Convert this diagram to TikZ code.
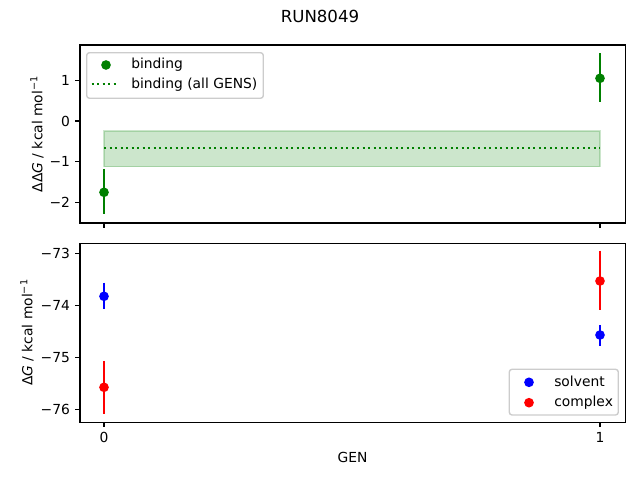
\documentclass[tikz,border=0pt]{standalone}
\usepackage{fontspec}
\setmainfont{DejaVu Sans}
\definecolor{mplGreen}{HTML}{008000}
\definecolor{mplBlue}{HTML}{0000FF}
\definecolor{mplRed}{HTML}{FF0000}
\definecolor{legendEdge}{HTML}{CCCCCC}
\tikzset{
  plot style/.style={
    x=0.01in, y=-0.01in,
    font=\fontsize{10}{12}\selectfont,
  },
  axis frame/.style={
    draw, line width=0.8pt,
  },
  tick mark/.style={
    line width=0.8pt,
  },
  tick label/.style={
    inner sep=0pt,
  },
  data point/.style={
    fill=#1, circle, inner sep=0pt, minimum size=7pt
  },
  error bar/.style={
    draw=#1, line width=1.5pt,
  },
  mean line/.style={
    draw=mplGreen, line width=1.5pt,
    dash pattern=on 1.5pt off 2.475pt,
  },
  mean band/.style={
    fill=mplGreen, draw=mplGreen, line width=1pt, opacity=0.2,
  },
  legend box/.style={
    draw=legendEdge, fill=white, fill opacity=0.8,
    rounded corners=2pt, line width=1pt,
  },
  legend text/.style={
    inner sep=0pt, anchor=base west,
  },
}
\begin{document}
\begin{tikzpicture}[plot style]
  \useasboundingbox (0,0) rectangle (640,480);
  \node[font=\fontsize{12}{14}\selectfont] (title) at (320,16) {RUN8049};

  % upper panel: binding
  \path[mean band] (104,131) rectangle (600,166.7);
  \coordinate (meanL) at (104,147.7);
  \coordinate (meanR) at (600,147.7);
  \draw[mean line] (meanL) -- (meanR);
  \coordinate (b0top) at (104,169);
  \coordinate (b0bot) at (104,214.3);
  \coordinate (b1top) at (600,53.3);
  \coordinate (b1bot) at (600,101.7);
  \draw[error bar=mplGreen] (b0top) -- (b0bot);
  \draw[error bar=mplGreen] (b1top) -- (b1bot);
  \node[data point=mplGreen] (bind0) at (104,192.3) {};
  \node[data point=mplGreen] (bind1) at (600,78.3) {};
  \draw[axis frame] (80,45) rectangle (625.7,223);
  \foreach \y/\lab in {80.7/1, 121/0, 161.7/−1, 202.3/−2}{
    \draw[tick mark] (80,\y) -- (75.1,\y);
    \node[tick label, anchor=east] at (70.2,\y) {\lab};
  }
  \foreach \x in {104, 600}
    \draw[tick mark] (\x,223) -- (\x,227.9);
  \node[tick label, rotate=90, anchor=south] (ylabTop) at (44,134)
    {ΔΔ\textit{G} / kcal mol\textsuperscript{−1}};
  % legend
  \draw[legend box] (86.7,52.7) rectangle (263.3,98.3);
  \node[data point=mplGreen] (legBind) at (106,65) {};
  \coordinate (legMeanL) at (91.7,84);
  \coordinate (legMeanR) at (118.3,84);
  \draw[mean line] (legMeanL) -- (legMeanR);
  \node[legend text] (legBindTxt) at (131,69) {binding};
  \node[legend text] (legMeanTxt) at (131,89) {binding (all GENS)};

  % lower panel: solvent and complex
  \coordinate (s0top) at (104,282.7);
  \coordinate (s0bot) at (104,309);
  \coordinate (c0top) at (104,361);
  \coordinate (c0bot) at (104,414);
  \coordinate (c1top) at (600,250.7);
  \coordinate (c1bot) at (600,310);
  \coordinate (s1top) at (600,325);
  \coordinate (s1bot) at (600,345.7);
  \draw[error bar=mplBlue] (s0top) -- (s0bot);
  \draw[error bar=mplBlue] (s1top) -- (s1bot);
  \draw[error bar=mplRed] (c0top) -- (c0bot);
  \draw[error bar=mplRed] (c1top) -- (c1bot);
  \node[data point=mplBlue] (solv0) at (104,296.3) {};
  \node[data point=mplBlue] (solv1) at (600,335) {};
  \node[data point=mplRed] (comp0) at (104,387.3) {};
  \node[data point=mplRed] (comp1) at (600,281) {};
  \draw[axis frame] (80,243.3) rectangle (625.7,422.3);
  \foreach \y/\lab in {253.3/−73, 305.3/−74, 357.3/−75, 409.3/−76}{
    \draw[tick mark] (80,\y) -- (75.1,\y);
    \node[tick label, anchor=east] at (70.2,\y) {\lab};
  }
  \foreach \x/\lab in {104/0, 600/1}{
    \draw[tick mark] (\x,422.3) -- (\x,427.2);
    \node[tick label, anchor=north] at (\x,432.1) {\lab};
  }
  \node[tick label, rotate=90, anchor=south] (ylabBot) at (34,332.5)
    {Δ\textit{G} / kcal mol\textsuperscript{−1}};
  \node (xlab) at (352.5,457) {GEN};
  % legend
  \draw[legend box] (509.3,369.3) rectangle (618.3,415);
  \node[data point=mplBlue] (legSolv) at (529,382.3) {};
  \node[data point=mplRed] (legComp) at (529,402.7) {};
  \node[legend text] (legSolvTxt) at (554,386.5) {solvent};
  \node[legend text] (legCompTxt) at (554,406.5) {complex};
\end{tikzpicture}
\end{document}
